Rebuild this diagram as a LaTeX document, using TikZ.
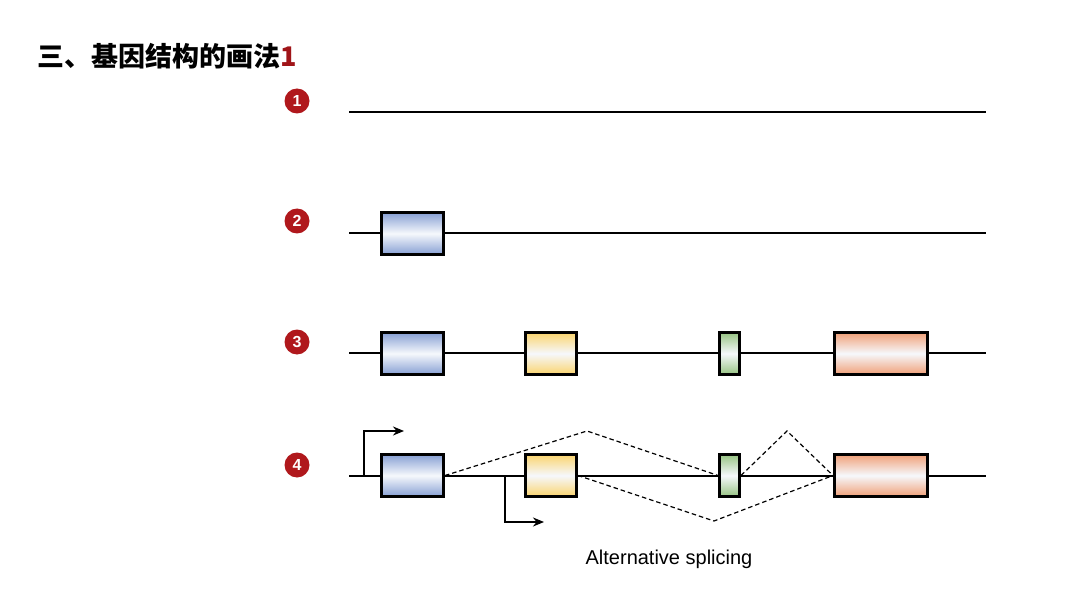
\documentclass[tikz,border=0pt]{standalone}
\usepackage{fontspec}
\setmainfont{Liberation Sans}
\newfontfamily\cjk{Noto Sans CJK SC}
\usetikzlibrary{arrows.meta}
\definecolor{numred}{RGB}{176,24,28}
\definecolor{titred}{RGB}{160,20,24}
\definecolor{exblue}{RGB}{135,160,212}
\definecolor{exyellow}{RGB}{250,212,110}
\definecolor{exgreen}{RGB}{150,195,130}
\definecolor{exorange}{RGB}{240,160,120}
\definecolor{exmid}{RGB}{246,248,252}
\tikzset{
  numcirc/.style={circle,fill=numred,text=white,font=\bfseries\fontsize{16}{16}\selectfont,inner sep=0pt,minimum size=25pt},
  gene/.style={line width=2.2pt,black},
  exon/.style={draw=black,line width=3pt,inner sep=0pt,minimum height=42pt,middle color=exmid},
  bluex/.style={exon,top color=exblue,bottom color=exblue,middle color=exmid,minimum width=62pt},
  yelx/.style={exon,top color=exyellow,bottom color=exyellow,middle color=exmid,minimum width=51pt},
  grnx/.style={exon,top color=exgreen,bottom color=exgreen,middle color=exmid,minimum width=20pt},
  orax/.style={exon,top color=exorange,bottom color=exorange,middle color=exmid,minimum width=93pt},
  splice/.style={line width=1.2pt,dash pattern=on 4.5pt off 3pt},
  prom/.style={line width=2.2pt,-{Stealth[length=11pt,width=9pt]}}
}
\begin{document}
\begin{tikzpicture}[x=1pt,y=-1pt]
\useasboundingbox (0,0) rectangle (1080,607);
\fill[white] (0,0) rectangle (1080,607);
% title
\node[anchor=west,inner sep=0pt] (title) at (37,56) {\cjk\bfseries\fontsize{27}{27}\selectfont 三、基因结构的画法\textcolor{titred}{1}};
% numbers
\node[numcirc] (n1) at (297,101) {1};
\node[numcirc] (n2) at (297,221) {2};
\node[numcirc] (n3) at (297,342) {3};
\node[numcirc] (n4) at (297,465) {4};
% row 1
\coordinate (a1) at (349,112);
\coordinate (z1) at (986,112);
\draw[gene] (a1) -- (z1);
% row 2
\coordinate (a2) at (349,233);
\coordinate (z2) at (986,233);
\draw[gene] (a2) -- (z2);
\node[bluex] (b2) at (412.5,233.5) {};
% row 3
\coordinate (a3) at (349,353);
\coordinate (z3) at (986,353);
\draw[gene] (a3) -- (z3);
\node[bluex] (b3) at (412.5,353.5) {};
\node[yelx] (y3) at (551,353.5) {};
\node[grnx] (g3) at (729.5,353.5) {};
\node[orax] (o3) at (881,353.5) {};
% row 4
\coordinate (a4) at (349,476);
\coordinate (z4) at (986,476);
\draw[gene] (a4) -- (z4);
\node[bluex] (b4) at (412.5,475.5) {};
\node[yelx] (y4) at (551,475.5) {};
\node[grnx] (g4) at (729.5,475.5) {};
\node[orax] (o4) at (881,475.5) {};
% promoters
\coordinate (p1) at (364,476);
\coordinate (p1t) at (404,431);
\coordinate (p2) at (505,476);
\coordinate (p2t) at (544,522);
\draw[prom] (p1) |- (p1t);
\draw[prom] (p2) |- (p2t);
% splicing
\coordinate (k1) at (587,431);
\coordinate (k2) at (714,521);
\coordinate (k3) at (787,431);
\draw[splice] (b4.east) -- (k1) -- (g4.west);
\draw[splice] (y4.east) -- (k2) -- (o4.west);
\draw[splice] (g4.east) -- (k3) -- (o4.west);
\node[font=\fontsize{20}{20}\selectfont] (lbl) at (669,559) {Alternative splicing};
\end{tikzpicture}
\end{document}
